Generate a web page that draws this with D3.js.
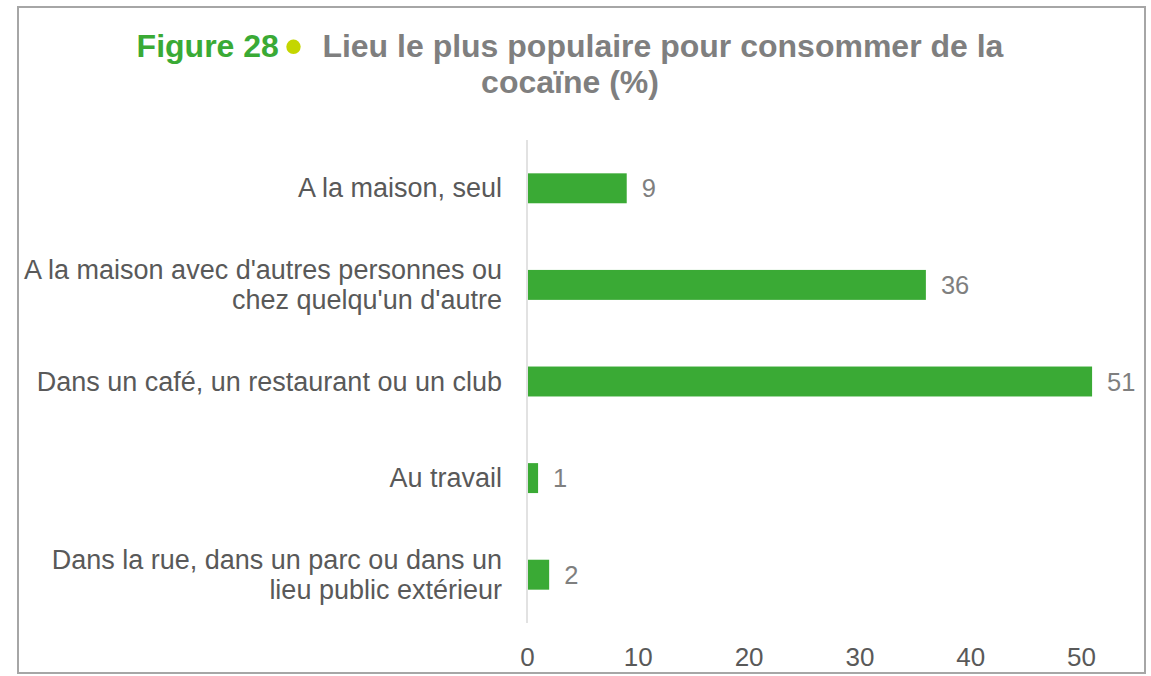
<!DOCTYPE html>
<html lang="fr">
<head>
<meta charset="UTF-8">
<title>Figure 28</title>
<script src="https://d3js.org/d3.v7.min.js"></script>
<style>
  body { margin: 0; background: #fff; }
  svg { font-family: "Liberation Sans", Arial, sans-serif; }
  .cat { font-size: 27px; fill: #595959; }
  .val { font-size: 25.5px; fill: #7f7f7f; }
  .tick text { font-size: 26px; fill: #595959; }
</style>
</head>
<body>
<svg width="1151" height="676"></svg>
<script>
// data
const categories = [
  ["A la maison, seul"],
  ["A la maison avec d'autres personnes ou", "chez quelqu'un d'autre"],
  ["Dans un café, un restaurant ou un club"],
  ["Au travail"],
  ["Dans la rue, dans un parc ou dans un", "lieu public extérieur"]
];
const values = [9, 36, 51, 1, 2];
const xTicks = [0, 10, 20, 30, 40, 50];

const svg = d3.select("svg");

// frame
svg.append("rect")
  .attr("x", 18).attr("y", 7)
  .attr("width", 1127).attr("height", 666)
  .attr("fill", "none")
  .attr("stroke", "#a6a6a6")
  .attr("stroke-width", 2);

// title
const title = svg.append("text")
  .attr("x", 570).attr("y", 57)
  .attr("text-anchor", "middle")
  .style("font-size", "32px")
  .style("font-weight", "bold");
title.append("tspan").attr("fill", "#3aaa35").text("Figure 28");
title.append("tspan").attr("fill", "#c4d600")
  .attr("dx", 6).attr("dy", 6)
  .style("font-size", "50px").text("•");
title.append("tspan").attr("fill", "#7f7f7f")
  .attr("dx", 20).attr("dy", -6)
  .text("Lieu le plus populaire pour consommer de la");
svg.append("text")
  .attr("x", 570).attr("y", 93)
  .attr("text-anchor", "middle")
  .style("font-size", "32px")
  .style("font-weight", "bold")
  .attr("fill", "#7f7f7f")
  .text("cocaïne (%)");

const x = d3.scaleLinear().domain([0, 50]).range([527, 1081]);
const y = d3.scaleBand()
  .domain(d3.range(values.length))
  .range([140, 623])
  .paddingInner(0.69)
  .paddingOuter(0.345);

// axis line
svg.append("line")
  .attr("x1", x(0)).attr("x2", x(0))
  .attr("y1", 140).attr("y2", 623)
  .attr("stroke", "#d9d9d9")
  .attr("stroke-width", 1.5);

// bars
svg.selectAll(".bar")
  .data(values)
  .enter().append("rect")
  .attr("class", "bar")
  .attr("x", x(0) + 1)
  .attr("y", (d, i) => y(i))
  .attr("width", d => x(d) - x(0) - 1)
  .attr("height", y.bandwidth())
  .attr("fill", "#3aaa35");

// value labels
svg.selectAll(".val")
  .data(values)
  .enter().append("text")
  .attr("class", "val")
  .attr("x", d => x(d) + 15)
  .attr("y", (d, i) => y(i) + y.bandwidth() / 2)
  .attr("dy", "0.36em")
  .text(d => d);

// category labels
svg.selectAll(".cat")
  .data(categories)
  .enter().append("text")
  .attr("class", "cat")
  .attr("text-anchor", "end")
  .attr("x", 502)
  .attr("y", (d, i) => y(i) + y.bandwidth() / 2)
  .each(function(lines) {
    const t = d3.select(this);
    const off = -(lines.length - 1) * 15;
    lines.forEach((l, k) => {
      t.append("tspan")
        .attr("x", 502)
        .attr("dy", k === 0 ? (off + 9) + "px" : "30px")
        .text(l);
    });
  });

// x axis
const xAxis = d3.axisBottom(x).tickValues(xTicks).tickSize(0).tickPadding(0);
const gx = svg.append("g")
  .attr("transform", "translate(0,666)")
  .call(xAxis);
gx.select(".domain").remove();
gx.selectAll(".tick text").attr("dy", 0).attr("y", 0).attr("font-family", null);
</script>
</body>
</html>
